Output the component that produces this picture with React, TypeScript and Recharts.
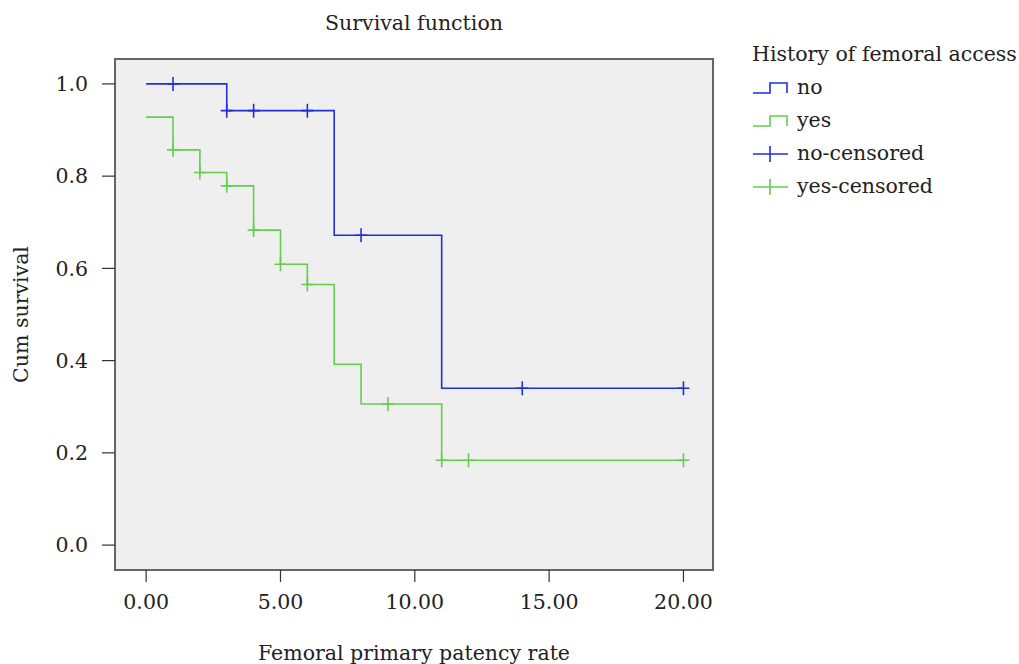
import { ComposedChart, Line, Scatter, XAxis, YAxis, CartesianGrid, ReferenceArea } from 'recharts';

// Kaplan-Meier steps
const noTimes = [0, 3, 7, 11, 20];
const noSurv = [1.0, 0.942, 0.672, 0.34, 0.34];
const yesTimes = [0, 1, 2, 3, 4, 5, 6, 7, 8, 11, 20];
const yesSurv = [0.928, 0.857, 0.808, 0.779, 0.683, 0.609, 0.565, 0.392, 0.306, 0.184, 0.184];

// censored observations
const noCensTimes = [1, 3, 4, 6, 8, 14, 20];
const noCensSurv = [1.0, 0.942, 0.942, 0.942, 0.672, 0.34, 0.34];
const yesCensTimes = [1, 2, 3, 4, 5, 6, 9, 11, 12, 20];
const yesCensSurv = [0.857, 0.808, 0.779, 0.683, 0.609, 0.565, 0.306, 0.184, 0.184, 0.184];

const xTicks = [0, 5, 10, 15, 20];
const yTicks = [0, 0.2, 0.4, 0.6, 0.8, 1.0];

const BLUE = '#1f30d8';
const GREEN = '#62cf4b';
const FONT = '"DejaVu Serif", serif';
const X_DOMAIN = [-1.16, 21.1];
const Y_DOMAIN = [-0.054, 1.054];

const zip = (ts: number[], ss: number[]) => ts.map((t, i) => ({ t, s: ss[i] }));

const noData = zip(noTimes, noSurv);
const yesData = zip(yesTimes, yesSurv);
const noCens = zip(noCensTimes, noCensSurv);
const yesCens = zip(yesCensTimes, yesCensSurv);

const cross = (color: string) => (props: any) => {
  const { cx, cy } = props;
  return (
    <path
      d={`M${cx - 6},${cy}h12M${cx},${cy - 7}v14`}
      stroke={color}
      strokeWidth={1.6}
      fill="none"
    />
  );
};

const legendItems = [
  { label: 'no', color: BLUE, kind: 'step' },
  { label: 'yes', color: GREEN, kind: 'step' },
  { label: 'no-censored', color: BLUE, kind: 'cross' },
  { label: 'yes-censored', color: GREEN, kind: 'cross' },
];

function LegendBox() {
  return (
    <div style={{ position: 'absolute', left: 752, top: 38, fontFamily: FONT, fontSize: 20.5, color: '#222' }}>
      <div style={{ height: 33, lineHeight: '33px', whiteSpace: 'nowrap' }}>History of femoral access</div>
      {legendItems.map((it) => (
        <div key={it.label} style={{ height: 33, display: 'flex', alignItems: 'center' }}>
          <svg width={45} height={20}>
            {it.kind === 'step' ? (
              <path d="M1,15H18V5H35V15" stroke={it.color} strokeWidth={1.6} fill="none" />
            ) : (
              <path d="M1,10H36M18,2V18" stroke={it.color} strokeWidth={1.6} fill="none" />
            )}
          </svg>
          <span style={{ lineHeight: '33px', whiteSpace: 'nowrap' }}>{it.label}</span>
        </div>
      ))}
    </div>
  );
}

export default function App() {
  return (
    <div style={{ position: 'absolute', left: 0, top: 0, width: 1019, height: 664, background: '#fff' }}>
      <div
        style={{
          position: 'absolute',
          left: 114,
          width: 600,
          top: 11,
          textAlign: 'center',
          fontFamily: FONT,
          fontSize: 20.5,
          color: '#222',
        }}
      >
        Survival function
      </div>
      <ComposedChart
        width={1019}
        height={664}
        margin={{ top: 59, right: 306, left: 0, bottom: 0 }}
      >
        <CartesianGrid fill="#efefef" horizontal={false} vertical={false} />
        <XAxis
          type="number"
          dataKey="t"
          domain={X_DOMAIN}
          ticks={xTicks}
          allowDataOverflow
          height={94}
          tickFormatter={(v: number) => v.toFixed(2)}
          tickSize={12}
          tickMargin={12}
          tick={{ fill: '#222', fontSize: 20.5, fontFamily: FONT }}
          axisLine={{ stroke: '#666', strokeWidth: 2 }}
          tickLine={{ stroke: '#333', strokeWidth: 1.2 }}
          label={{
            content: ({ viewBox }: any) => (
              <text
                x={viewBox.x + viewBox.width / 2}
                y={viewBox.y + 90}
                textAnchor="middle"
                fontFamily={FONT}
                fontSize={20.5}
                fill="#222"
              >
                Femoral primary patency rate
              </text>
            ),
          }}
        />
        <YAxis
          type="number"
          dataKey="s"
          domain={Y_DOMAIN}
          ticks={yTicks}
          allowDataOverflow
          width={115}
          tickFormatter={(v: number) => v.toFixed(1)}
          tickSize={13}
          tickMargin={14}
          tick={{ fill: '#222', fontSize: 20.5, fontFamily: FONT }}
          axisLine={{ stroke: '#666', strokeWidth: 2 }}
          tickLine={{ stroke: '#333', strokeWidth: 1.2 }}
          label={{
            content: ({ viewBox }: any) => {
              const x = 28;
              const y = viewBox.y + viewBox.height / 2;
              return (
                <text
                  x={x}
                  y={y}
                  transform={`rotate(-90 ${x} ${y})`}
                  textAnchor="middle"
                  fontFamily={FONT}
                  fontSize={20.5}
                  fill="#222"
                >
                  Cum survival
                </text>
              );
            },
          }}
        />
        <ReferenceArea
          x1={X_DOMAIN[0]}
          x2={X_DOMAIN[1]}
          y1={Y_DOMAIN[0]}
          y2={Y_DOMAIN[1]}
          fill="none"
          stroke="#666"
          strokeWidth={2}
          fillOpacity={0}
        />
        <Line
          data={noData}
          dataKey="s"
          type="stepAfter"
          stroke={BLUE}
          strokeWidth={1.6}
          dot={false}
          activeDot={false}
          isAnimationActive={false}
        />
        <Line
          data={yesData}
          dataKey="s"
          type="stepAfter"
          stroke={GREEN}
          strokeWidth={1.6}
          dot={false}
          activeDot={false}
          isAnimationActive={false}
        />
        <Scatter data={noCens} dataKey="s" shape={cross(BLUE)} isAnimationActive={false} />
        <Scatter data={yesCens} dataKey="s" shape={cross(GREEN)} isAnimationActive={false} />
      </ComposedChart>
      <LegendBox />
    </div>
  );
}
